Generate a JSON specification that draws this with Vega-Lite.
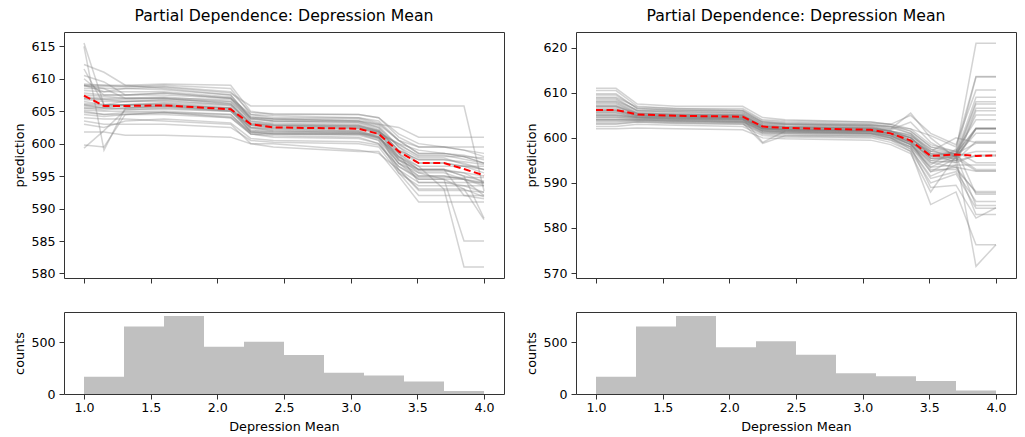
{
"$schema":"https://vega.github.io/schema/vega-lite/v6.json",
"padding":{"left":12,"top":7,"right":8,"bottom":0},
"config":{
 "font":"DejaVu Sans",
 "view":{"stroke":"#333","strokeWidth":1},
 "axis":{"grid":false,"domain":false,"tickColor":"#333","tickSize":5,"labelFontSize":12.6,"titleFontSize":12.8,"labelColor":"#000","titleColor":"#000","titleFontWeight":"normal","labelPadding":4,"labelOverlap":false},
 "title":{"fontSize":15.7,"fontWeight":"normal","color":"#000","anchor":"middle","frame":"group","offset":7}
},
"datasets":{
"iceL":[
{"i":1,"x":1,"y":609.0},{"i":1,"x":1.15,"y":609.0},{"i":1,"x":1.31,"y":608.8},{"i":1,"x":1.6,"y":609.0},{"i":1,"x":2.1,"y":608.5},{"i":1,"x":2.25,"y":604.5},{"i":1,"x":2.42,"y":604.3},{"i":1,"x":3.06,"y":604.0},{"i":1,"x":3.21,"y":603.2},{"i":1,"x":3.36,"y":600.5},{"i":1,"x":3.51,"y":598.5},{"i":1,"x":3.7,"y":598.5},{"i":1,"x":3.85,"y":598.2},{"i":1,"x":4,"y":597.5},
{"i":2,"x":1,"y":615.5},{"i":2,"x":1.15,"y":606.0},{"i":2,"x":1.31,"y":606.5},{"i":2,"x":1.6,"y":606.8},{"i":2,"x":2.1,"y":606.5},{"i":2,"x":2.25,"y":603.5},{"i":2,"x":2.42,"y":603.2},{"i":2,"x":3.06,"y":603.0},{"i":2,"x":3.21,"y":602.0},{"i":2,"x":3.36,"y":599.0},{"i":2,"x":3.51,"y":597.5},{"i":2,"x":3.7,"y":597.5},{"i":2,"x":3.85,"y":597.0},{"i":2,"x":4,"y":596.0},
{"i":3,"x":1,"y":615.0},{"i":3,"x":1.15,"y":599.0},{"i":3,"x":1.31,"y":605.5},{"i":3,"x":1.6,"y":605.8},{"i":3,"x":2.1,"y":605.5},{"i":3,"x":2.25,"y":602.5},{"i":3,"x":2.42,"y":602.2},{"i":3,"x":3.06,"y":602.0},{"i":3,"x":3.21,"y":601.0},{"i":3,"x":3.36,"y":598.0},{"i":3,"x":3.51,"y":596.0},{"i":3,"x":3.7,"y":596.0},{"i":3,"x":3.85,"y":595.5},{"i":3,"x":4,"y":594.0},
{"i":4,"x":1,"y":612.2},{"i":4,"x":1.15,"y":611.0},{"i":4,"x":1.31,"y":609.0},{"i":4,"x":1.6,"y":608.5},{"i":4,"x":2.1,"y":607.5},{"i":4,"x":2.25,"y":604.0},{"i":4,"x":2.42,"y":603.8},{"i":4,"x":3.06,"y":603.5},{"i":4,"x":3.21,"y":602.8},{"i":4,"x":3.36,"y":599.5},{"i":4,"x":3.51,"y":597.8},{"i":4,"x":3.7,"y":597.8},{"i":4,"x":3.85,"y":596.8},{"i":4,"x":4,"y":596.0},
{"i":5,"x":1,"y":611.5},{"i":5,"x":1.15,"y":606.0},{"i":5,"x":1.31,"y":606.0},{"i":5,"x":1.6,"y":606.2},{"i":5,"x":2.1,"y":605.5},{"i":5,"x":2.25,"y":602.8},{"i":5,"x":2.42,"y":602.4},{"i":5,"x":3.06,"y":602.3},{"i":5,"x":3.21,"y":601.8},{"i":5,"x":3.36,"y":599.8},{"i":5,"x":3.51,"y":598.2},{"i":5,"x":3.7,"y":598.2},{"i":5,"x":3.85,"y":597.6},{"i":5,"x":4,"y":597.0},
{"i":6,"x":1,"y":599.3},{"i":6,"x":1.15,"y":602.0},{"i":6,"x":1.31,"y":605.2},{"i":6,"x":1.6,"y":605.5},{"i":6,"x":2.1,"y":605.0},{"i":6,"x":2.25,"y":602.0},{"i":6,"x":2.42,"y":601.8},{"i":6,"x":3.06,"y":601.7},{"i":6,"x":3.21,"y":600.8},{"i":6,"x":3.36,"y":597.0},{"i":6,"x":3.51,"y":595.0},{"i":6,"x":3.7,"y":595.0},{"i":6,"x":3.85,"y":594.5},{"i":6,"x":4,"y":593.5},
{"i":7,"x":1,"y":599.8},{"i":7,"x":1.15,"y":599.5},{"i":7,"x":1.31,"y":604.5},{"i":7,"x":1.6,"y":604.8},{"i":7,"x":2.1,"y":604.5},{"i":7,"x":2.25,"y":601.5},{"i":7,"x":2.42,"y":601.2},{"i":7,"x":3.06,"y":601.0},{"i":7,"x":3.21,"y":600.0},{"i":7,"x":3.36,"y":596.5},{"i":7,"x":3.51,"y":594.5},{"i":7,"x":3.7,"y":594.5},{"i":7,"x":3.85,"y":593.0},{"i":7,"x":4,"y":591.8},
{"i":8,"x":1,"y":601.8},{"i":8,"x":1.15,"y":601.8},{"i":8,"x":1.31,"y":601.3},{"i":8,"x":1.6,"y":601.3},{"i":8,"x":2.1,"y":601.0},{"i":8,"x":2.25,"y":600.0},{"i":8,"x":2.42,"y":600.0},{"i":8,"x":3.06,"y":599.0},{"i":8,"x":3.21,"y":598.5},{"i":8,"x":3.36,"y":596.0},{"i":8,"x":3.51,"y":594.0},{"i":8,"x":3.7,"y":594.0},{"i":8,"x":3.85,"y":593.5},{"i":8,"x":4,"y":592.5},
{"i":9,"x":1,"y":609.0},{"i":9,"x":1.15,"y":608.0},{"i":9,"x":1.31,"y":608.5},{"i":9,"x":1.6,"y":608.7},{"i":9,"x":2.1,"y":607.8},{"i":9,"x":2.25,"y":605.8},{"i":9,"x":2.42,"y":605.8},{"i":9,"x":3.06,"y":605.8},{"i":9,"x":3.21,"y":605.8},{"i":9,"x":3.36,"y":605.8},{"i":9,"x":3.51,"y":605.8},{"i":9,"x":3.7,"y":605.8},{"i":9,"x":3.85,"y":605.8},{"i":9,"x":4,"y":592.7},
{"i":10,"x":1,"y":607.2},{"i":10,"x":1.15,"y":607.0},{"i":10,"x":1.31,"y":607.0},{"i":10,"x":1.6,"y":607.2},{"i":10,"x":2.1,"y":606.5},{"i":10,"x":2.25,"y":603.8},{"i":10,"x":2.42,"y":603.5},{"i":10,"x":3.06,"y":603.2},{"i":10,"x":3.21,"y":602.2},{"i":10,"x":3.36,"y":598.5},{"i":10,"x":3.51,"y":596.5},{"i":10,"x":3.7,"y":593.0},{"i":10,"x":3.85,"y":581.0},{"i":10,"x":4,"y":581.0},
{"i":11,"x":1,"y":606.0},{"i":11,"x":1.15,"y":605.5},{"i":11,"x":1.31,"y":605.5},{"i":11,"x":1.6,"y":605.8},{"i":11,"x":2.1,"y":605.0},{"i":11,"x":2.25,"y":602.5},{"i":11,"x":2.42,"y":602.0},{"i":11,"x":3.06,"y":601.8},{"i":11,"x":3.21,"y":601.0},{"i":11,"x":3.36,"y":597.8},{"i":11,"x":3.51,"y":595.5},{"i":11,"x":3.7,"y":594.5},{"i":11,"x":3.85,"y":585.0},{"i":11,"x":4,"y":585.0},
{"i":12,"x":1,"y":605.0},{"i":12,"x":1.15,"y":604.5},{"i":12,"x":1.31,"y":604.5},{"i":12,"x":1.6,"y":604.8},{"i":12,"x":2.1,"y":604.0},{"i":12,"x":2.25,"y":601.5},{"i":12,"x":2.42,"y":601.0},{"i":12,"x":3.06,"y":600.8},{"i":12,"x":3.21,"y":600.0},{"i":12,"x":3.36,"y":596.0},{"i":12,"x":3.51,"y":593.0},{"i":12,"x":3.7,"y":593.0},{"i":12,"x":3.85,"y":593.0},{"i":12,"x":4,"y":588.3},
{"i":13,"x":1,"y":606.5},{"i":13,"x":1.15,"y":606.0},{"i":13,"x":1.31,"y":606.0},{"i":13,"x":1.6,"y":606.3},{"i":13,"x":2.1,"y":605.8},{"i":13,"x":2.25,"y":603.0},{"i":13,"x":2.42,"y":602.6},{"i":13,"x":3.06,"y":602.5},{"i":13,"x":3.21,"y":601.8},{"i":13,"x":3.36,"y":598.5},{"i":13,"x":3.51,"y":596.0},{"i":13,"x":3.7,"y":596.0},{"i":13,"x":3.85,"y":595.0},{"i":13,"x":4,"y":588.5},
{"i":14,"x":1,"y":609.2},{"i":14,"x":1.15,"y":609.0},{"i":14,"x":1.31,"y":609.0},{"i":14,"x":1.6,"y":609.2},{"i":14,"x":2.1,"y":609.0},{"i":14,"x":2.25,"y":605.0},{"i":14,"x":2.42,"y":604.5},{"i":14,"x":3.06,"y":604.5},{"i":14,"x":3.21,"y":604.0},{"i":14,"x":3.36,"y":601.5},{"i":14,"x":3.51,"y":600.0},{"i":14,"x":3.7,"y":599.5},{"i":14,"x":3.85,"y":599.0},{"i":14,"x":4,"y":598.5},
{"i":15,"x":1,"y":608.5},{"i":15,"x":1.15,"y":608.5},{"i":15,"x":1.31,"y":608.5},{"i":15,"x":1.6,"y":608.3},{"i":15,"x":2.1,"y":607.5},{"i":15,"x":2.25,"y":603.8},{"i":15,"x":2.42,"y":603.5},{"i":15,"x":3.06,"y":603.5},{"i":15,"x":3.21,"y":603.0},{"i":15,"x":3.36,"y":602.5},{"i":15,"x":3.51,"y":601.0},{"i":15,"x":3.7,"y":601.0},{"i":15,"x":3.85,"y":601.0},{"i":15,"x":4,"y":601.0},
{"i":16,"x":1,"y":603.5},{"i":16,"x":1.15,"y":603.0},{"i":16,"x":1.31,"y":603.0},{"i":16,"x":1.6,"y":603.0},{"i":16,"x":2.1,"y":602.5},{"i":16,"x":2.25,"y":600.5},{"i":16,"x":2.42,"y":600.2},{"i":16,"x":3.06,"y":600.0},{"i":16,"x":3.21,"y":599.5},{"i":16,"x":3.36,"y":595.5},{"i":16,"x":3.51,"y":593.5},{"i":16,"x":3.7,"y":593.5},{"i":16,"x":3.85,"y":593.5},{"i":16,"x":4,"y":593.5},
{"i":17,"x":1,"y":604.5},{"i":17,"x":1.15,"y":604.2},{"i":17,"x":1.31,"y":604.5},{"i":17,"x":1.6,"y":604.5},{"i":17,"x":2.1,"y":604.0},{"i":17,"x":2.25,"y":601.5},{"i":17,"x":2.42,"y":601.5},{"i":17,"x":3.06,"y":601.5},{"i":17,"x":3.21,"y":601.5},{"i":17,"x":3.36,"y":600.0},{"i":17,"x":3.51,"y":599.0},{"i":17,"x":3.7,"y":598.5},{"i":17,"x":3.85,"y":598.0},{"i":17,"x":4,"y":597.0},
{"i":18,"x":1,"y":607.8},{"i":18,"x":1.15,"y":607.5},{"i":18,"x":1.31,"y":607.5},{"i":18,"x":1.6,"y":607.5},{"i":18,"x":2.1,"y":607.0},{"i":18,"x":2.25,"y":603.5},{"i":18,"x":2.42,"y":603.0},{"i":18,"x":3.06,"y":602.8},{"i":18,"x":3.21,"y":602.0},{"i":18,"x":3.36,"y":597.5},{"i":18,"x":3.51,"y":595.0},{"i":18,"x":3.7,"y":595.0},{"i":18,"x":3.85,"y":594.5},{"i":18,"x":4,"y":594.0},
{"i":19,"x":1,"y":605.5},{"i":19,"x":1.15,"y":605.2},{"i":19,"x":1.31,"y":605.5},{"i":19,"x":1.6,"y":605.6},{"i":19,"x":2.1,"y":605.2},{"i":19,"x":2.25,"y":602.8},{"i":19,"x":2.42,"y":602.5},{"i":19,"x":3.06,"y":602.3},{"i":19,"x":3.21,"y":601.5},{"i":19,"x":3.36,"y":598.0},{"i":19,"x":3.51,"y":596.5},{"i":19,"x":3.7,"y":596.5},{"i":19,"x":3.85,"y":596.5},{"i":19,"x":4,"y":596.5},
{"i":20,"x":1,"y":606.8},{"i":20,"x":1.15,"y":606.5},{"i":20,"x":1.31,"y":606.5},{"i":20,"x":1.6,"y":606.7},{"i":20,"x":2.1,"y":606.0},{"i":20,"x":2.25,"y":603.2},{"i":20,"x":2.42,"y":602.8},{"i":20,"x":3.06,"y":602.5},{"i":20,"x":3.21,"y":601.5},{"i":20,"x":3.36,"y":596.0},{"i":20,"x":3.51,"y":592.8},{"i":20,"x":3.7,"y":592.8},{"i":20,"x":3.85,"y":592.8},{"i":20,"x":4,"y":592.5},
{"i":21,"x":1,"y":604.0},{"i":21,"x":1.15,"y":603.8},{"i":21,"x":1.31,"y":603.8},{"i":21,"x":1.6,"y":603.5},{"i":21,"x":2.1,"y":603.0},{"i":21,"x":2.25,"y":600.0},{"i":21,"x":2.42,"y":599.5},{"i":21,"x":3.06,"y":598.8},{"i":21,"x":3.21,"y":598.8},{"i":21,"x":3.36,"y":595.0},{"i":21,"x":3.51,"y":591.0},{"i":21,"x":3.7,"y":591.0},{"i":21,"x":3.85,"y":591.0},{"i":21,"x":4,"y":591.0},
{"i":22,"x":1,"y":610.0},{"i":22,"x":1.15,"y":607.5},{"i":22,"x":1.31,"y":607.5},{"i":22,"x":1.6,"y":607.8},{"i":22,"x":2.1,"y":607.0},{"i":22,"x":2.25,"y":604.0},{"i":22,"x":2.42,"y":603.5},{"i":22,"x":3.06,"y":603.3},{"i":22,"x":3.21,"y":602.5},{"i":22,"x":3.36,"y":599.5},{"i":22,"x":3.51,"y":597.0},{"i":22,"x":3.7,"y":597.0},{"i":22,"x":3.85,"y":596.5},{"i":22,"x":4,"y":596.0},
{"i":23,"x":1,"y":605.8},{"i":23,"x":1.15,"y":605.5},{"i":23,"x":1.31,"y":606.0},{"i":23,"x":1.6,"y":606.0},{"i":23,"x":2.1,"y":605.5},{"i":23,"x":2.25,"y":601.8},{"i":23,"x":2.42,"y":601.5},{"i":23,"x":3.06,"y":601.3},{"i":23,"x":3.21,"y":600.5},{"i":23,"x":3.36,"y":595.5},{"i":23,"x":3.51,"y":592.0},{"i":23,"x":3.7,"y":592.0},{"i":23,"x":3.85,"y":592.0},{"i":23,"x":4,"y":591.5},
{"i":24,"x":1,"y":608.2},{"i":24,"x":1.15,"y":608.0},{"i":24,"x":1.31,"y":608.0},{"i":24,"x":1.6,"y":608.0},{"i":24,"x":2.1,"y":607.2},{"i":24,"x":2.25,"y":604.2},{"i":24,"x":2.42,"y":603.8},{"i":24,"x":3.06,"y":603.8},{"i":24,"x":3.21,"y":603.0},{"i":24,"x":3.36,"y":600.5},{"i":24,"x":3.51,"y":599.5},{"i":24,"x":3.7,"y":599.5},{"i":24,"x":3.85,"y":599.0},{"i":24,"x":4,"y":598.0},
{"i":25,"x":1,"y":607.0},{"i":25,"x":1.15,"y":606.8},{"i":25,"x":1.31,"y":606.5},{"i":25,"x":1.6,"y":606.5},{"i":25,"x":2.1,"y":606.0},{"i":25,"x":2.25,"y":603.0},{"i":25,"x":2.42,"y":602.8},{"i":25,"x":3.06,"y":602.7},{"i":25,"x":3.21,"y":602.0},{"i":25,"x":3.36,"y":599.0},{"i":25,"x":3.51,"y":597.5},{"i":25,"x":3.7,"y":597.5},{"i":25,"x":3.85,"y":597.2},{"i":25,"x":4,"y":596.8},
{"i":26,"x":1,"y":606.2},{"i":26,"x":1.15,"y":606.0},{"i":26,"x":1.31,"y":606.0},{"i":26,"x":1.6,"y":606.0},{"i":26,"x":2.1,"y":605.4},{"i":26,"x":2.25,"y":602.3},{"i":26,"x":2.42,"y":602.0},{"i":26,"x":3.06,"y":601.8},{"i":26,"x":3.21,"y":601.0},{"i":26,"x":3.36,"y":597.5},{"i":26,"x":3.51,"y":596.0},{"i":26,"x":3.7,"y":596.0},{"i":26,"x":3.85,"y":595.0},{"i":26,"x":4,"y":594.2},
{"i":27,"x":1,"y":609.0},{"i":27,"x":1.15,"y":608.5},{"i":27,"x":1.31,"y":607.0},{"i":27,"x":1.6,"y":607.0},{"i":27,"x":2.1,"y":606.2},{"i":27,"x":2.25,"y":603.0},{"i":27,"x":2.42,"y":602.8},{"i":27,"x":3.06,"y":602.6},{"i":27,"x":3.21,"y":601.8},{"i":27,"x":3.36,"y":600.0},{"i":27,"x":3.51,"y":598.0},{"i":27,"x":3.7,"y":598.0},{"i":27,"x":3.85,"y":598.0},{"i":27,"x":4,"y":597.8},
{"i":28,"x":1,"y":605.2},{"i":28,"x":1.15,"y":605.0},{"i":28,"x":1.31,"y":605.0},{"i":28,"x":1.6,"y":605.0},{"i":28,"x":2.1,"y":604.5},{"i":28,"x":2.25,"y":601.8},{"i":28,"x":2.42,"y":601.6},{"i":28,"x":3.06,"y":601.5},{"i":28,"x":3.21,"y":600.8},{"i":28,"x":3.36,"y":598.5},{"i":28,"x":3.51,"y":594.0},{"i":28,"x":3.7,"y":594.0},{"i":28,"x":3.85,"y":594.0},{"i":28,"x":4,"y":594.0},
{"i":29,"x":1,"y":610.5},{"i":29,"x":1.15,"y":609.5},{"i":29,"x":1.31,"y":607.5},{"i":29,"x":1.6,"y":607.8},{"i":29,"x":2.1,"y":607.0},{"i":29,"x":2.25,"y":604.5},{"i":29,"x":2.42,"y":604.0},{"i":29,"x":3.06,"y":604.0},{"i":29,"x":3.21,"y":603.5},{"i":29,"x":3.36,"y":600.5},{"i":29,"x":3.51,"y":598.5},{"i":29,"x":3.7,"y":598.5},{"i":29,"x":3.85,"y":598.0},{"i":29,"x":4,"y":597.0},
{"i":30,"x":1,"y":604.8},{"i":30,"x":1.15,"y":604.5},{"i":30,"x":1.31,"y":604.8},{"i":30,"x":1.6,"y":604.8},{"i":30,"x":2.1,"y":604.2},{"i":30,"x":2.25,"y":601.8},{"i":30,"x":2.42,"y":601.5},{"i":30,"x":3.06,"y":601.5},{"i":30,"x":3.21,"y":600.5},{"i":30,"x":3.36,"y":597.0},{"i":30,"x":3.51,"y":594.5},{"i":30,"x":3.7,"y":594.5},{"i":30,"x":3.85,"y":594.5},{"i":30,"x":4,"y":593.8},
{"i":31,"x":1,"y":607.5},{"i":31,"x":1.15,"y":607.3},{"i":31,"x":1.31,"y":607.0},{"i":31,"x":1.6,"y":607.0},{"i":31,"x":2.1,"y":606.8},{"i":31,"x":2.25,"y":604.0},{"i":31,"x":2.42,"y":603.8},{"i":31,"x":3.06,"y":603.5},{"i":31,"x":3.21,"y":602.5},{"i":31,"x":3.36,"y":598.8},{"i":31,"x":3.51,"y":597.0},{"i":31,"x":3.7,"y":597.0},{"i":31,"x":3.85,"y":596.5},{"i":31,"x":4,"y":595.5},
{"i":32,"x":1,"y":606.0},{"i":32,"x":1.15,"y":605.8},{"i":32,"x":1.31,"y":605.8},{"i":32,"x":1.6,"y":605.8},{"i":32,"x":2.1,"y":605.2},{"i":32,"x":2.25,"y":602.5},{"i":32,"x":2.42,"y":602.3},{"i":32,"x":3.06,"y":602.0},{"i":32,"x":3.21,"y":601.2},{"i":32,"x":3.36,"y":597.0},{"i":32,"x":3.51,"y":595.5},{"i":32,"x":3.7,"y":595.5},{"i":32,"x":3.85,"y":594.5},{"i":32,"x":4,"y":592.0},
{"i":33,"x":1,"y":608.8},{"i":33,"x":1.15,"y":608.8},{"i":33,"x":1.31,"y":608.8},{"i":33,"x":1.6,"y":608.8},{"i":33,"x":2.1,"y":608.0},{"i":33,"x":2.25,"y":604.8},{"i":33,"x":2.42,"y":604.6},{"i":33,"x":3.06,"y":604.5},{"i":33,"x":3.21,"y":604.0},{"i":33,"x":3.36,"y":601.0},{"i":33,"x":3.51,"y":599.5},{"i":33,"x":3.7,"y":599.5},{"i":33,"x":3.85,"y":599.5},{"i":33,"x":4,"y":599.5},
{"i":34,"x":1,"y":605.5},{"i":34,"x":1.15,"y":605.5},{"i":34,"x":1.31,"y":605.3},{"i":34,"x":1.6,"y":605.3},{"i":34,"x":2.1,"y":605.0},{"i":34,"x":2.25,"y":602.0},{"i":34,"x":2.42,"y":601.8},{"i":34,"x":3.06,"y":601.6},{"i":34,"x":3.21,"y":601.0},{"i":34,"x":3.36,"y":597.5},{"i":34,"x":3.51,"y":595.8},{"i":34,"x":3.7,"y":595.8},{"i":34,"x":3.85,"y":595.5},{"i":34,"x":4,"y":595.0},
{"i":35,"x":1,"y":607.0},{"i":35,"x":1.15,"y":606.8},{"i":35,"x":1.31,"y":606.8},{"i":35,"x":1.6,"y":607.0},{"i":35,"x":2.1,"y":606.2},{"i":35,"x":2.25,"y":603.2},{"i":35,"x":2.42,"y":603.0},{"i":35,"x":3.06,"y":602.8},{"i":35,"x":3.21,"y":601.8},{"i":35,"x":3.36,"y":598.0},{"i":35,"x":3.51,"y":596.0},{"i":35,"x":3.7,"y":596.0},{"i":35,"x":3.85,"y":592.0},{"i":35,"x":4,"y":592.0},
{"i":36,"x":1,"y":603.0},{"i":36,"x":1.15,"y":602.5},{"i":36,"x":1.31,"y":603.5},{"i":36,"x":1.6,"y":603.8},{"i":36,"x":2.1,"y":603.2},{"i":36,"x":2.25,"y":600.8},{"i":36,"x":2.42,"y":600.5},{"i":36,"x":3.06,"y":600.3},{"i":36,"x":3.21,"y":599.8},{"i":36,"x":3.36,"y":596.5},{"i":36,"x":3.51,"y":594.8},{"i":36,"x":3.7,"y":594.8},{"i":36,"x":3.85,"y":594.8},{"i":36,"x":4,"y":594.8}
],
"iceR":[
{"i":1,"x":1,"y":611.0},{"i":1,"x":1.15,"y":611.0},{"i":1,"x":1.31,"y":607.5},{"i":1,"x":1.6,"y":607.0},{"i":1,"x":2.1,"y":607.0},{"i":1,"x":2.25,"y":604.5},{"i":1,"x":2.42,"y":604.0},{"i":1,"x":3.06,"y":603.5},{"i":1,"x":3.21,"y":603.0},{"i":1,"x":3.36,"y":601.5},{"i":1,"x":3.51,"y":598.0},{"i":1,"x":3.7,"y":597.0},{"i":1,"x":3.85,"y":621.0},{"i":1,"x":4,"y":621.0},
{"i":2,"x":1,"y":610.5},{"i":2,"x":1.15,"y":610.5},{"i":2,"x":1.31,"y":607.0},{"i":2,"x":1.6,"y":606.5},{"i":2,"x":2.1,"y":606.5},{"i":2,"x":2.25,"y":604.0},{"i":2,"x":2.42,"y":603.8},{"i":2,"x":3.06,"y":603.5},{"i":2,"x":3.21,"y":603.0},{"i":2,"x":3.36,"y":602.0},{"i":2,"x":3.51,"y":600.5},{"i":2,"x":3.7,"y":598.0},{"i":2,"x":3.85,"y":613.6},{"i":2,"x":4,"y":613.6},
{"i":3,"x":1,"y":609.8},{"i":3,"x":1.15,"y":609.8},{"i":3,"x":1.31,"y":606.5},{"i":3,"x":1.6,"y":606.2},{"i":3,"x":2.1,"y":606.0},{"i":3,"x":2.25,"y":603.5},{"i":3,"x":2.42,"y":603.0},{"i":3,"x":3.06,"y":602.8},{"i":3,"x":3.21,"y":602.5},{"i":3,"x":3.36,"y":601.0},{"i":3,"x":3.51,"y":597.0},{"i":3,"x":3.7,"y":596.5},{"i":3,"x":3.85,"y":613.5},{"i":3,"x":4,"y":613.5},
{"i":4,"x":1,"y":609.0},{"i":4,"x":1.15,"y":609.0},{"i":4,"x":1.31,"y":606.8},{"i":4,"x":1.6,"y":606.5},{"i":4,"x":2.1,"y":606.2},{"i":4,"x":2.25,"y":603.8},{"i":4,"x":2.42,"y":603.5},{"i":4,"x":3.06,"y":603.2},{"i":4,"x":3.21,"y":603.0},{"i":4,"x":3.36,"y":605.0},{"i":4,"x":3.51,"y":601.0},{"i":4,"x":3.7,"y":598.5},{"i":4,"x":3.85,"y":610.6},{"i":4,"x":4,"y":610.6},
{"i":5,"x":1,"y":608.5},{"i":5,"x":1.15,"y":608.5},{"i":5,"x":1.31,"y":606.0},{"i":5,"x":1.6,"y":605.8},{"i":5,"x":2.1,"y":605.5},{"i":5,"x":2.25,"y":603.0},{"i":5,"x":2.42,"y":602.8},{"i":5,"x":3.06,"y":602.5},{"i":5,"x":3.21,"y":601.5},{"i":5,"x":3.36,"y":600.0},{"i":5,"x":3.51,"y":596.5},{"i":5,"x":3.7,"y":596.0},{"i":5,"x":3.85,"y":608.0},{"i":5,"x":4,"y":608.0},
{"i":6,"x":1,"y":608.0},{"i":6,"x":1.15,"y":608.0},{"i":6,"x":1.31,"y":605.8},{"i":6,"x":1.6,"y":605.5},{"i":6,"x":2.1,"y":605.2},{"i":6,"x":2.25,"y":603.2},{"i":6,"x":2.42,"y":603.0},{"i":6,"x":3.06,"y":602.5},{"i":6,"x":3.21,"y":602.0},{"i":6,"x":3.36,"y":605.5},{"i":6,"x":3.51,"y":600.0},{"i":6,"x":3.7,"y":595.5},{"i":6,"x":3.85,"y":606.6},{"i":6,"x":4,"y":606.6},
{"i":7,"x":1,"y":607.5},{"i":7,"x":1.15,"y":607.5},{"i":7,"x":1.31,"y":605.5},{"i":7,"x":1.6,"y":605.2},{"i":7,"x":2.1,"y":605.0},{"i":7,"x":2.25,"y":602.5},{"i":7,"x":2.42,"y":602.3},{"i":7,"x":3.06,"y":602.0},{"i":7,"x":3.21,"y":601.5},{"i":7,"x":3.36,"y":600.0},{"i":7,"x":3.51,"y":596.0},{"i":7,"x":3.7,"y":596.0},{"i":7,"x":3.85,"y":605.1},{"i":7,"x":4,"y":605.1},
{"i":8,"x":1,"y":607.0},{"i":8,"x":1.15,"y":607.0},{"i":8,"x":1.31,"y":605.2},{"i":8,"x":1.6,"y":605.0},{"i":8,"x":2.1,"y":604.8},{"i":8,"x":2.25,"y":602.8},{"i":8,"x":2.42,"y":602.5},{"i":8,"x":3.06,"y":602.2},{"i":8,"x":3.21,"y":601.5},{"i":8,"x":3.36,"y":599.5},{"i":8,"x":3.51,"y":595.5},{"i":8,"x":3.7,"y":595.5},{"i":8,"x":3.85,"y":602.1},{"i":8,"x":4,"y":602.1},
{"i":9,"x":1,"y":606.5},{"i":9,"x":1.15,"y":606.5},{"i":9,"x":1.31,"y":605.0},{"i":9,"x":1.6,"y":604.8},{"i":9,"x":2.1,"y":604.5},{"i":9,"x":2.25,"y":602.0},{"i":9,"x":2.42,"y":601.8},{"i":9,"x":3.06,"y":601.5},{"i":9,"x":3.21,"y":601.0},{"i":9,"x":3.36,"y":599.0},{"i":9,"x":3.51,"y":594.5},{"i":9,"x":3.7,"y":595.0},{"i":9,"x":3.85,"y":599.2},{"i":9,"x":4,"y":599.2},
{"i":10,"x":1,"y":606.0},{"i":10,"x":1.15,"y":606.0},{"i":10,"x":1.31,"y":604.8},{"i":10,"x":1.6,"y":604.5},{"i":10,"x":2.1,"y":604.3},{"i":10,"x":2.25,"y":599.0},{"i":10,"x":2.42,"y":601.5},{"i":10,"x":3.06,"y":601.5},{"i":10,"x":3.21,"y":601.0},{"i":10,"x":3.36,"y":599.5},{"i":10,"x":3.51,"y":595.0},{"i":10,"x":3.7,"y":594.5},{"i":10,"x":3.85,"y":596.2},{"i":10,"x":4,"y":596.2},
{"i":11,"x":1,"y":605.5},{"i":11,"x":1.15,"y":605.5},{"i":11,"x":1.31,"y":604.5},{"i":11,"x":1.6,"y":604.3},{"i":11,"x":2.1,"y":604.2},{"i":11,"x":2.25,"y":602.0},{"i":11,"x":2.42,"y":601.8},{"i":11,"x":3.06,"y":601.5},{"i":11,"x":3.21,"y":600.5},{"i":11,"x":3.36,"y":598.5},{"i":11,"x":3.51,"y":593.5},{"i":11,"x":3.7,"y":594.0},{"i":11,"x":3.85,"y":594.0},{"i":11,"x":4,"y":594.0},
{"i":12,"x":1,"y":605.0},{"i":12,"x":1.15,"y":605.0},{"i":12,"x":1.31,"y":604.5},{"i":12,"x":1.6,"y":604.2},{"i":12,"x":2.1,"y":604.0},{"i":12,"x":2.25,"y":601.5},{"i":12,"x":2.42,"y":601.2},{"i":12,"x":3.06,"y":601.0},{"i":12,"x":3.21,"y":600.0},{"i":12,"x":3.36,"y":598.0},{"i":12,"x":3.51,"y":592.5},{"i":12,"x":3.7,"y":593.5},{"i":12,"x":3.85,"y":592.6},{"i":12,"x":4,"y":592.6},
{"i":13,"x":1,"y":604.5},{"i":13,"x":1.15,"y":604.5},{"i":13,"x":1.31,"y":604.2},{"i":13,"x":1.6,"y":604.0},{"i":13,"x":2.1,"y":603.8},{"i":13,"x":2.25,"y":601.8},{"i":13,"x":2.42,"y":601.5},{"i":13,"x":3.06,"y":601.0},{"i":13,"x":3.21,"y":600.5},{"i":13,"x":3.36,"y":599.0},{"i":13,"x":3.51,"y":593.0},{"i":13,"x":3.7,"y":593.0},{"i":13,"x":3.85,"y":588.1},{"i":13,"x":4,"y":588.1},
{"i":14,"x":1,"y":604.0},{"i":14,"x":1.15,"y":604.0},{"i":14,"x":1.31,"y":604.0},{"i":14,"x":1.6,"y":603.8},{"i":14,"x":2.1,"y":603.5},{"i":14,"x":2.25,"y":601.2},{"i":14,"x":2.42,"y":601.0},{"i":14,"x":3.06,"y":600.8},{"i":14,"x":3.21,"y":600.0},{"i":14,"x":3.36,"y":597.5},{"i":14,"x":3.51,"y":591.0},{"i":14,"x":3.7,"y":592.5},{"i":14,"x":3.85,"y":585.9},{"i":14,"x":4,"y":585.9},
{"i":15,"x":1,"y":603.5},{"i":15,"x":1.15,"y":603.5},{"i":15,"x":1.31,"y":603.8},{"i":15,"x":1.6,"y":603.5},{"i":15,"x":2.1,"y":603.3},{"i":15,"x":2.25,"y":598.8},{"i":15,"x":2.42,"y":600.5},{"i":15,"x":3.06,"y":600.5},{"i":15,"x":3.21,"y":599.5},{"i":15,"x":3.36,"y":597.0},{"i":15,"x":3.51,"y":590.0},{"i":15,"x":3.7,"y":592.0},{"i":15,"x":3.85,"y":584.4},{"i":15,"x":4,"y":584.4},
{"i":16,"x":1,"y":603.0},{"i":16,"x":1.15,"y":603.0},{"i":16,"x":1.31,"y":603.5},{"i":16,"x":1.6,"y":603.2},{"i":16,"x":2.1,"y":603.0},{"i":16,"x":2.25,"y":600.8},{"i":16,"x":2.42,"y":600.5},{"i":16,"x":3.06,"y":600.2},{"i":16,"x":3.21,"y":599.5},{"i":16,"x":3.36,"y":598.0},{"i":16,"x":3.51,"y":589.0},{"i":16,"x":3.7,"y":589.5},{"i":16,"x":3.85,"y":582.2},{"i":16,"x":4,"y":584.5},
{"i":17,"x":1,"y":602.5},{"i":17,"x":1.15,"y":602.5},{"i":17,"x":1.31,"y":603.0},{"i":17,"x":1.6,"y":602.8},{"i":17,"x":2.1,"y":602.5},{"i":17,"x":2.25,"y":600.5},{"i":17,"x":2.42,"y":600.2},{"i":17,"x":3.06,"y":600.0},{"i":17,"x":3.21,"y":599.0},{"i":17,"x":3.36,"y":597.0},{"i":17,"x":3.51,"y":585.2},{"i":17,"x":3.7,"y":588.0},{"i":17,"x":3.85,"y":576.3},{"i":17,"x":4,"y":576.3},
{"i":18,"x":1,"y":602.0},{"i":18,"x":1.15,"y":602.0},{"i":18,"x":1.31,"y":602.2},{"i":18,"x":1.6,"y":602.0},{"i":18,"x":2.1,"y":601.8},{"i":18,"x":2.25,"y":600.0},{"i":18,"x":2.42,"y":599.8},{"i":18,"x":3.06,"y":599.5},{"i":18,"x":3.21,"y":598.5},{"i":18,"x":3.36,"y":596.5},{"i":18,"x":3.51,"y":588.0},{"i":18,"x":3.7,"y":596.0},{"i":18,"x":3.85,"y":571.5},{"i":18,"x":4,"y":576.3},
{"i":19,"x":1,"y":608.8},{"i":19,"x":1.15,"y":608.8},{"i":19,"x":1.31,"y":606.0},{"i":19,"x":1.6,"y":605.8},{"i":19,"x":2.1,"y":605.5},{"i":19,"x":2.25,"y":603.5},{"i":19,"x":2.42,"y":603.2},{"i":19,"x":3.06,"y":602.8},{"i":19,"x":3.21,"y":602.5},{"i":19,"x":3.36,"y":601.5},{"i":19,"x":3.51,"y":598.0},{"i":19,"x":3.7,"y":596.5},{"i":19,"x":3.85,"y":609.0},{"i":19,"x":4,"y":609.0},
{"i":20,"x":1,"y":607.8},{"i":20,"x":1.15,"y":607.8},{"i":20,"x":1.31,"y":605.5},{"i":20,"x":1.6,"y":605.3},{"i":20,"x":2.1,"y":605.2},{"i":20,"x":2.25,"y":602.8},{"i":20,"x":2.42,"y":602.6},{"i":20,"x":3.06,"y":602.3},{"i":20,"x":3.21,"y":601.8},{"i":20,"x":3.36,"y":603.5},{"i":20,"x":3.51,"y":599.0},{"i":20,"x":3.7,"y":596.0},{"i":20,"x":3.85,"y":607.5},{"i":20,"x":4,"y":607.5},
{"i":21,"x":1,"y":606.8},{"i":21,"x":1.15,"y":606.8},{"i":21,"x":1.31,"y":605.3},{"i":21,"x":1.6,"y":605.0},{"i":21,"x":2.1,"y":604.8},{"i":21,"x":2.25,"y":602.5},{"i":21,"x":2.42,"y":602.3},{"i":21,"x":3.06,"y":602.0},{"i":21,"x":3.21,"y":601.5},{"i":21,"x":3.36,"y":600.5},{"i":21,"x":3.51,"y":597.5},{"i":21,"x":3.7,"y":595.0},{"i":21,"x":3.85,"y":602.0},{"i":21,"x":4,"y":602.0},
{"i":22,"x":1,"y":606.2},{"i":22,"x":1.15,"y":606.2},{"i":22,"x":1.31,"y":605.0},{"i":22,"x":1.6,"y":604.8},{"i":22,"x":2.1,"y":604.6},{"i":22,"x":2.25,"y":602.3},{"i":22,"x":2.42,"y":602.0},{"i":22,"x":3.06,"y":601.8},{"i":22,"x":3.21,"y":601.2},{"i":22,"x":3.36,"y":600.0},{"i":22,"x":3.51,"y":596.5},{"i":22,"x":3.7,"y":596.5},{"i":22,"x":3.85,"y":602.2},{"i":22,"x":4,"y":602.2},
{"i":23,"x":1,"y":605.8},{"i":23,"x":1.15,"y":605.8},{"i":23,"x":1.31,"y":604.8},{"i":23,"x":1.6,"y":604.6},{"i":23,"x":2.1,"y":604.4},{"i":23,"x":2.25,"y":602.2},{"i":23,"x":2.42,"y":602.0},{"i":23,"x":3.06,"y":601.7},{"i":23,"x":3.21,"y":600.8},{"i":23,"x":3.36,"y":599.0},{"i":23,"x":3.51,"y":596.0},{"i":23,"x":3.7,"y":597.0},{"i":23,"x":3.85,"y":594.5},{"i":23,"x":4,"y":594.5},
{"i":24,"x":1,"y":605.2},{"i":24,"x":1.15,"y":605.2},{"i":24,"x":1.31,"y":604.6},{"i":24,"x":1.6,"y":604.4},{"i":24,"x":2.1,"y":604.2},{"i":24,"x":2.25,"y":601.8},{"i":24,"x":2.42,"y":601.6},{"i":24,"x":3.06,"y":601.3},{"i":24,"x":3.21,"y":600.5},{"i":24,"x":3.36,"y":598.5},{"i":24,"x":3.51,"y":595.0},{"i":24,"x":3.7,"y":596.0},{"i":24,"x":3.85,"y":593.0},{"i":24,"x":4,"y":593.0},
{"i":25,"x":1,"y":604.8},{"i":25,"x":1.15,"y":604.8},{"i":25,"x":1.31,"y":604.4},{"i":25,"x":1.6,"y":604.2},{"i":25,"x":2.1,"y":604.0},{"i":25,"x":2.25,"y":602.0},{"i":25,"x":2.42,"y":601.8},{"i":25,"x":3.06,"y":601.5},{"i":25,"x":3.21,"y":601.0},{"i":25,"x":3.36,"y":599.5},{"i":25,"x":3.51,"y":597.0},{"i":25,"x":3.7,"y":600.0},{"i":25,"x":3.85,"y":599.0},{"i":25,"x":4,"y":599.0},
{"i":26,"x":1,"y":604.2},{"i":26,"x":1.15,"y":604.2},{"i":26,"x":1.31,"y":604.0},{"i":26,"x":1.6,"y":603.8},{"i":26,"x":2.1,"y":603.6},{"i":26,"x":2.25,"y":601.5},{"i":26,"x":2.42,"y":601.3},{"i":26,"x":3.06,"y":601.0},{"i":26,"x":3.21,"y":600.2},{"i":26,"x":3.36,"y":598.5},{"i":26,"x":3.51,"y":594.0},{"i":26,"x":3.7,"y":597.5},{"i":26,"x":3.85,"y":587.5},{"i":26,"x":4,"y":587.5},
{"i":27,"x":1,"y":603.8},{"i":27,"x":1.15,"y":603.8},{"i":27,"x":1.31,"y":603.8},{"i":27,"x":1.6,"y":603.6},{"i":27,"x":2.1,"y":603.4},{"i":27,"x":2.25,"y":601.2},{"i":27,"x":2.42,"y":601.0},{"i":27,"x":3.06,"y":600.8},{"i":27,"x":3.21,"y":600.0},{"i":27,"x":3.36,"y":598.0},{"i":27,"x":3.51,"y":593.5},{"i":27,"x":3.7,"y":596.0},{"i":27,"x":3.85,"y":585.0},{"i":27,"x":4,"y":585.0},
{"i":28,"x":1,"y":607.2},{"i":28,"x":1.15,"y":607.2},{"i":28,"x":1.31,"y":605.4},{"i":28,"x":1.6,"y":605.2},{"i":28,"x":2.1,"y":605.0},{"i":28,"x":2.25,"y":602.6},{"i":28,"x":2.42,"y":602.4},{"i":28,"x":3.06,"y":602.2},{"i":28,"x":3.21,"y":601.5},{"i":28,"x":3.36,"y":600.8},{"i":28,"x":3.51,"y":596.5},{"i":28,"x":3.7,"y":594.5},{"i":28,"x":3.85,"y":606.0},{"i":28,"x":4,"y":606.0},
{"i":29,"x":1,"y":606.3},{"i":29,"x":1.15,"y":606.3},{"i":29,"x":1.31,"y":605.0},{"i":29,"x":1.6,"y":604.8},{"i":29,"x":2.1,"y":604.6},{"i":29,"x":2.25,"y":602.2},{"i":29,"x":2.42,"y":602.0},{"i":29,"x":3.06,"y":601.8},{"i":29,"x":3.21,"y":601.3},{"i":29,"x":3.36,"y":600.2},{"i":29,"x":3.51,"y":596.0},{"i":29,"x":3.7,"y":595.5},{"i":29,"x":3.85,"y":602.0},{"i":29,"x":4,"y":602.0},
{"i":30,"x":1,"y":605.6},{"i":30,"x":1.15,"y":605.6},{"i":30,"x":1.31,"y":604.7},{"i":30,"x":1.6,"y":604.5},{"i":30,"x":2.1,"y":604.3},{"i":30,"x":2.25,"y":602.0},{"i":30,"x":2.42,"y":601.7},{"i":30,"x":3.06,"y":601.4},{"i":30,"x":3.21,"y":600.8},{"i":30,"x":3.36,"y":599.2},{"i":30,"x":3.51,"y":595.5},{"i":30,"x":3.7,"y":596.0},{"i":30,"x":3.85,"y":597.0},{"i":30,"x":4,"y":597.0},
{"i":31,"x":1,"y":604.6},{"i":31,"x":1.15,"y":604.6},{"i":31,"x":1.31,"y":604.3},{"i":31,"x":1.6,"y":604.0},{"i":31,"x":2.1,"y":603.8},{"i":31,"x":2.25,"y":601.6},{"i":31,"x":2.42,"y":601.4},{"i":31,"x":3.06,"y":601.2},{"i":31,"x":3.21,"y":600.5},{"i":31,"x":3.36,"y":598.8},{"i":31,"x":3.51,"y":592.5},{"i":31,"x":3.7,"y":595.5},{"i":31,"x":3.85,"y":592.7},{"i":31,"x":4,"y":592.7},
{"i":32,"x":1,"y":603.2},{"i":32,"x":1.15,"y":603.2},{"i":32,"x":1.31,"y":603.5},{"i":32,"x":1.6,"y":603.3},{"i":32,"x":2.1,"y":603.1},{"i":32,"x":2.25,"y":601.0},{"i":32,"x":2.42,"y":600.8},{"i":32,"x":3.06,"y":600.5},{"i":32,"x":3.21,"y":599.8},{"i":32,"x":3.36,"y":597.5},{"i":32,"x":3.51,"y":591.5},{"i":32,"x":3.7,"y":594.0},{"i":32,"x":3.85,"y":583.0},{"i":32,"x":4,"y":583.0},
{"i":33,"x":1,"y":609.5},{"i":33,"x":1.15,"y":609.5},{"i":33,"x":1.31,"y":606.5},{"i":33,"x":1.6,"y":606.2},{"i":33,"x":2.1,"y":606.0},{"i":33,"x":2.25,"y":603.5},{"i":33,"x":2.42,"y":603.3},{"i":33,"x":3.06,"y":603.0},{"i":33,"x":3.21,"y":602.5},{"i":33,"x":3.36,"y":602.0},{"i":33,"x":3.51,"y":598.5},{"i":33,"x":3.7,"y":597.0},{"i":33,"x":3.85,"y":604.0},{"i":33,"x":4,"y":604.0},
{"i":34,"x":1,"y":608.2},{"i":34,"x":1.15,"y":608.2},{"i":34,"x":1.31,"y":606.2},{"i":34,"x":1.6,"y":606.0},{"i":34,"x":2.1,"y":605.8},{"i":34,"x":2.25,"y":603.2},{"i":34,"x":2.42,"y":603.0},{"i":34,"x":3.06,"y":602.8},{"i":34,"x":3.21,"y":602.2},{"i":34,"x":3.36,"y":601.0},{"i":34,"x":3.51,"y":597.5},{"i":34,"x":3.7,"y":596.5},{"i":34,"x":3.85,"y":602.1},{"i":34,"x":4,"y":602.1},
{"i":35,"x":1,"y":606.0},{"i":35,"x":1.15,"y":606.0},{"i":35,"x":1.31,"y":604.9},{"i":35,"x":1.6,"y":604.7},{"i":35,"x":2.1,"y":604.5},{"i":35,"x":2.25,"y":602.2},{"i":35,"x":2.42,"y":602.0},{"i":35,"x":3.06,"y":601.7},{"i":35,"x":3.21,"y":601.0},{"i":35,"x":3.36,"y":599.0},{"i":35,"x":3.51,"y":595.5},{"i":35,"x":3.7,"y":595.0},{"i":35,"x":3.85,"y":596.0},{"i":35,"x":4,"y":596.0},
{"i":36,"x":1,"y":605.0},{"i":36,"x":1.15,"y":605.0},{"i":36,"x":1.31,"y":604.5},{"i":36,"x":1.6,"y":604.3},{"i":36,"x":2.1,"y":604.1},{"i":36,"x":2.25,"y":602.0},{"i":36,"x":2.42,"y":601.8},{"i":36,"x":3.06,"y":601.5},{"i":36,"x":3.21,"y":601.0},{"i":36,"x":3.36,"y":600.0},{"i":36,"x":3.51,"y":596.0},{"i":36,"x":3.7,"y":596.5},{"i":36,"x":3.85,"y":598.8},{"i":36,"x":4,"y":598.8},
{"i":37,"x":1,"y":604.0},{"i":37,"x":1.15,"y":604.0},{"i":37,"x":1.31,"y":604.0},{"i":37,"x":1.6,"y":603.8},{"i":37,"x":2.1,"y":603.6},{"i":37,"x":2.25,"y":601.5},{"i":37,"x":2.42,"y":601.3},{"i":37,"x":3.06,"y":601.1},{"i":37,"x":3.21,"y":600.3},{"i":37,"x":3.36,"y":598.5},{"i":37,"x":3.51,"y":594.5},{"i":37,"x":3.7,"y":593.5},{"i":37,"x":3.85,"y":587.8},{"i":37,"x":4,"y":587.8},
{"i":38,"x":1,"y":607.0},{"i":38,"x":1.15,"y":607.0},{"i":38,"x":1.31,"y":605.4},{"i":38,"x":1.6,"y":605.1},{"i":38,"x":2.1,"y":604.9},{"i":38,"x":2.25,"y":602.6},{"i":38,"x":2.42,"y":602.4},{"i":38,"x":3.06,"y":602.1},{"i":38,"x":3.21,"y":601.6},{"i":38,"x":3.36,"y":600.5},{"i":38,"x":3.51,"y":597.0},{"i":38,"x":3.7,"y":596.0},{"i":38,"x":3.85,"y":601.0},{"i":38,"x":4,"y":601.0}
],
"pdpL":[
{"x":1,"y":607.4},{"x":1.15,"y":605.8},{"x":1.31,"y":605.8},{"x":1.6,"y":605.9},{"x":2.1,"y":605.3},{"x":2.25,"y":603.0},{"x":2.42,"y":602.5},{"x":3.06,"y":602.3},{"x":3.21,"y":601.5},{"x":3.36,"y":598.8},{"x":3.51,"y":597.0},{"x":3.7,"y":597.0},{"x":3.85,"y":596.1},{"x":4,"y":595.1}
],
"pdpR":[
{"x":1,"y":606.2},{"x":1.15,"y":606.2},{"x":1.31,"y":605.2},{"x":1.6,"y":604.9},{"x":2.1,"y":604.7},{"x":2.25,"y":602.5},{"x":2.42,"y":602.2},{"x":3.06,"y":601.8},{"x":3.21,"y":601.0},{"x":3.36,"y":599.4},{"x":3.51,"y":596.0},{"x":3.7,"y":596.3},{"x":3.85,"y":596.0},{"x":4,"y":596.1}
],
"histL":[
{"a":1.0,"b":1.3,"c":167},{"a":1.3,"b":1.6,"c":654},{"a":1.6,"b":1.9,"c":756},{"a":1.9,"b":2.2,"c":458},{"a":2.2,"b":2.5,"c":506},{"a":2.5,"b":2.8,"c":378},{"a":2.8,"b":3.1,"c":205},{"a":3.1,"b":3.4,"c":179},{"a":3.4,"b":3.7,"c":122},{"a":3.7,"b":4.0,"c":29}
],
"histR":[
{"a":1.0,"b":1.3,"c":167},{"a":1.3,"b":1.6,"c":654},{"a":1.6,"b":1.9,"c":756},{"a":1.9,"b":2.2,"c":452},{"a":2.2,"b":2.5,"c":510},{"a":2.5,"b":2.8,"c":381},{"a":2.8,"b":3.1,"c":202},{"a":3.1,"b":3.4,"c":173},{"a":3.4,"b":3.7,"c":125},{"a":3.7,"b":4.0,"c":35}
]
},
"spacing":19,
"hconcat":[
{"spacing":27,"vconcat":[
 {"width":440,"height":246,"title":"Partial Dependence: Depression Mean",
  "encoding":{"x":{"field":"x","type":"quantitative","scale":{"domain":[0.85,4.15],"nice":false,"zero":false},"axis":{"values":[1,1.5,2,2.5,3,3.5,4],"labels":false,"title":null}},
     "y":{"field":"y","type":"quantitative","scale":{"domain":[579.3,617.2],"nice":false,"zero":false},"axis":{"values":[580,585,590,595,600,605,610,615],"title":"prediction","minExtent":30,"maxExtent":30,"titlePadding":8}}},
  "layer":[
   {"data":{"name":"iceL"},"mark":{"type":"line","color":"#808080","opacity":0.35,"strokeWidth":1.5},
    "encoding":{"detail":{"field":"i","type":"nominal"}}},
   {"data":{"name":"pdpL"},"mark":{"type":"line","color":"#ff0000","strokeWidth":2,"strokeDash":[7,3.5]},"encoding":{}}
  ]},
 {"width":440,"height":82,"data":{"name":"histL"},"mark":{"type":"bar","color":"#c0c0c0"},
  "encoding":{"x":{"field":"a","type":"quantitative","scale":{"domain":[0.85,4.15],"nice":false,"zero":false},"axis":{"values":[1,1.5,2,2.5,3,3.5,4],"format":".1f","title":"Depression Mean","labelPadding":2,"titlePadding":7}},
   "x2":{"field":"b"},
   "y":{"field":"c","type":"quantitative","scale":{"domain":[0,794],"nice":false},"axis":{"values":[0,500],"title":"counts","minExtent":30,"maxExtent":30,"titlePadding":8}},
   "y2":{"datum":0}}}
]},
{"spacing":27,"vconcat":[
 {"width":440,"height":246,"title":"Partial Dependence: Depression Mean",
  "encoding":{"x":{"field":"x","type":"quantitative","scale":{"domain":[0.85,4.15],"nice":false,"zero":false},"axis":{"values":[1,1.5,2,2.5,3,3.5,4],"labels":false,"title":null}},
     "y":{"field":"y","type":"quantitative","scale":{"domain":[568.9,623.5],"nice":false,"zero":false},"axis":{"values":[570,580,590,600,610,620],"title":"prediction","minExtent":30,"maxExtent":30,"titlePadding":8}}},
  "layer":[
   {"data":{"name":"iceR"},"mark":{"type":"line","color":"#808080","opacity":0.35,"strokeWidth":1.5},
    "encoding":{"detail":{"field":"i","type":"nominal"}}},
   {"data":{"name":"pdpR"},"mark":{"type":"line","color":"#ff0000","strokeWidth":2,"strokeDash":[7,3.5]},"encoding":{}}
  ]},
 {"width":440,"height":82,"data":{"name":"histR"},"mark":{"type":"bar","color":"#c0c0c0"},
  "encoding":{"x":{"field":"a","type":"quantitative","scale":{"domain":[0.85,4.15],"nice":false,"zero":false},"axis":{"values":[1,1.5,2,2.5,3,3.5,4],"format":".1f","title":"Depression Mean","labelPadding":2,"titlePadding":7}},
   "x2":{"field":"b"},
   "y":{"field":"c","type":"quantitative","scale":{"domain":[0,794],"nice":false},"axis":{"values":[0,500],"title":"counts","minExtent":30,"maxExtent":30,"titlePadding":8}},
   "y2":{"datum":0}}}
]}
]
}
